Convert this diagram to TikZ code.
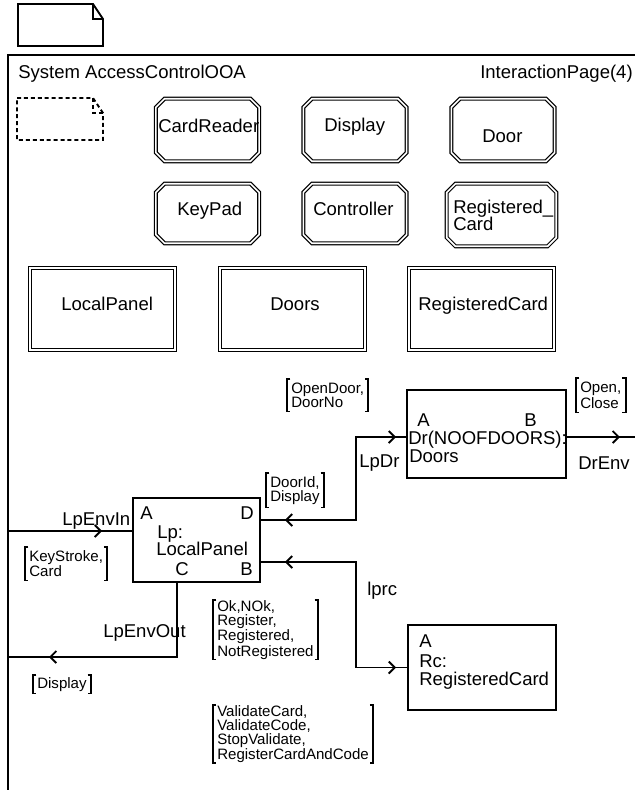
\documentclass[tikz,border=0pt]{standalone}
\usepackage{fontspec}
\setmainfont{Liberation Sans}
\usetikzlibrary{arrows.meta,calc,decorations.markings}

\tikzset{
  lbl/.style={anchor=base west,inner sep=0pt,font=\fontsize{13.9}{16}\selectfont},
  sig/.style={anchor=north west,align=left,inner xsep=3pt,inner ysep=0pt,minimum height=#1,font=\fontsize{11.3}{10}\selectfont},
  brk/.style={line width=1.4pt},
  wire/.style={line width=1.4pt},
  dbl/.style={double,double distance=1.2pt,line width=0.9pt},
  oct/.style={rectangle,inner sep=0pt},
  dbox/.style={rectangle,draw,dbl,inner sep=0pt,minimum width=108.75pt,minimum height=61.5pt},
  blk/.style={rectangle,draw,line width=1.4pt,inner sep=0pt},
  mk/.style={postaction={decorate},decoration={markings,#1}},
}
\newcommand\sigbr[1]{%
  \draw[brk] ([xshift=2.5pt]#1.north west) -| (#1.south west) -- ++(2.5pt,0);
  \draw[brk] ([xshift=-2.5pt]#1.north east) -| (#1.south east) -- ++(-2.5pt,0);
}
\newcommand\octline[1]{%
  \draw[dbl] ([xshift=6.5pt]#1.north west) -- ([xshift=-6.5pt]#1.north east)
    -- ([yshift=-6.5pt]#1.north east) -- ([yshift=6.5pt]#1.south east)
    -- ([xshift=-6.5pt]#1.south east) -- ([xshift=6.5pt]#1.south west)
    -- ([yshift=6.5pt]#1.south west) -- ([yshift=-6.5pt]#1.north west) -- cycle;
}

\begin{document}
\begin{tikzpicture}[x=0.75pt,y=-0.75pt,>={Straight Barb[length=4.5pt,width=9pt]}]
  \useasboundingbox (0,0) rectangle (635,790);
  % page symbols
  \draw[wire] (18,4) -- (93,4) -- (103,19) -- (103,46) -- (18,46) -- cycle;
  \draw[wire] (93,4) -- (93,19) -- (103,19);
  \draw[wire,dash pattern=on 3pt off 2.2pt] (17,98) -- (93,98) -- (103,113) -- (103,140) -- (17,140) -- cycle;
  \draw[wire,dash pattern=on 3pt off 2.2pt] (93,98) -- (93,113) -- (103,113);
  % frame
  \draw[wire] (8,790) -- (8,55) -- (635,55);
  \node[lbl] (sysname) at (18,78) {System AccessControlOOA};
  \node[lbl,anchor=base east] (pagename) at (633,78) {InteractionPage(4)};

  % process types
  \node[oct,minimum width=77pt,minimum height=46.5pt] (cardreader) at (207.5,130) {};
  \node[oct,minimum width=77pt,minimum height=46.5pt] (display) at (355,130) {};
  \node[oct,minimum width=77pt,minimum height=46.5pt] (door) at (503,130) {};
  \node[oct,minimum width=77pt,minimum height=44.25pt] (keypad) at (207.5,213.5) {};
  \node[oct,minimum width=77pt,minimum height=44.25pt] (controller) at (355,213.5) {};
  \node[oct,minimum width=81.75pt,minimum height=46.5pt] (regcardtype) at (501.5,215) {};
  \octline{cardreader} \octline{display} \octline{door}
  \octline{keypad} \octline{controller} \octline{regcardtype}
  \node[lbl] (cardreadername) at (158,132) {CardReader};
  \node[lbl] (displayname) at (324,131) {Display};
  \node[lbl] (doorname) at (482,142) {Door};
  \node[lbl] (keypadname) at (177,215) {KeyPad};
  \node[lbl] (controllername) at (313,215) {Controller};
  \node[lbl] (regcardname) at (453,213) {Registered\_};
  \node[lbl] (regcardname2) at (453,230) {Card};

  % block types
  \node[dbox] (localpanel) at (102.5,309) {};
  \node[dbox] (doors) at (292.5,309) {};
  \node[dbox] (registeredcard) at (481.5,309) {};
  \node[lbl] (localpanelname) at (61,310) {LocalPanel};
  \node[lbl] (doorsname) at (270,310) {Doors};
  \node[lbl] (registeredcardname) at (418,310) {RegisteredCard};

  % block instances
  \node[blk,minimum width=95.25pt,minimum height=63pt] (lp) at (196.5,540) {};
  \node[blk,minimum width=119.25pt,minimum height=66pt] (dr) at (486.5,434) {};
  \node[blk,minimum width=111pt,minimum height=63.75pt] (rc) at (482,667.5) {};
  \node[lbl] (lpA) at (140,519) {A};
  \node[lbl] (lpDname) at (240,519) {D};
  \node[lbl] (lpname) at (157,538) {Lp:};
  \node[lbl] (lptype) at (156,555) {LocalPanel};
  \node[lbl] (lpCname) at (175,575) {C};
  \node[lbl] (lpBname) at (240,575) {B};
  \node[lbl] (drAname) at (417,426) {A};
  \node[lbl] (drBname) at (524,426) {B};
  \node[lbl] (drname) at (408,444) {Dr(NOOFDOORS):};
  \node[lbl] (drtype) at (409,462) {Doors};
  \node[lbl] (rcAname) at (419,647) {A};
  \node[lbl] (rcname) at (419,667) {Rc:};
  \node[lbl] (rctype) at (419,685) {RegisteredCard};

  % ports and frame ends
  \coordinate (pA) at ($(lp.west)+(0,-9)$);
  \coordinate (pD) at ($(lp.east)+(0,-20)$);
  \coordinate (pB) at ($(lp.east)+(0,22)$);
  \coordinate (pC) at ($(lp.south)+(-19.5,0)$);
  \coordinate (drA) at ($(dr.west)+(0,3)$);
  \coordinate (drB) at ($(dr.east)+(0,3)$);
  \coordinate (envin) at (8,531);
  \coordinate (envout) at (8,657);
  \coordinate (envdr) at (635,437);
  \coordinate (bus) at (356,480);
  \coordinate (bus2) at (356,600);

  % channels
  \draw[wire,mk={mark=at position -22.5pt with {\arrow{>}}}] (envin) -- (pA);
  \draw[wire,mk={mark=at position -30.75pt with {\arrow{>}}}] (pC) |- (envout);
  \draw[wire,mk={mark=at position 18pt with {\arrowreversed{>}},mark=at position -7.5pt with {\arrow{>}}}] (pD) -| (bus) |- (drA);
  \draw[wire,mk={mark=at position 18pt with {\arrowreversed{>}},mark=at position -8.25pt with {\arrow{>}}}] (pB) -| (bus2) |- (rc.west);
  \draw[wire,mk={mark=at position -11.25pt with {\arrow{>}}}] (drB) -- (envdr);
  \node[lbl] (envinname) at (62,525) {LpEnvIn};
  \node[lbl] (envoutname) at (103,637) {LpEnvOut};
  \node[lbl] (lpdrname) at (359,467) {LpDr};
  \node[lbl] (drenvname) at (578,469) {DrEnv};
  \node[lbl] (lprcname) at (367,595) {lprc};

  % signal lists
  \node[sig=24.75pt] (sigin) at (25,547) {KeyStroke,\\Card}; \sigbr{sigin}
  \node[sig=13.5pt] (sigout) at (33,675) {Display}; \sigbr{sigout}
  \node[sig=24pt] (sigtodr) at (287,379) {OpenDoor,\\DoorNo}; \sigbr{sigtodr}
  \node[sig=25.5pt] (sigdrenv) at (576,378) {Open,\\Close}; \sigbr{sigdrenv}
  \node[sig=25.5pt,font=\fontsize{11.3}{6.5}\selectfont] (sigfromdr) at (266,473) {DoorId,\\Display}; \sigbr{sigfromdr}
  \node[sig=42.75pt,font=\fontsize{11.3}{9}\selectfont] (sigfromrc) at (213,600) {Ok,NOk,\\Register,\\Registered,\\NotRegistered}; \sigbr{sigfromrc}
  \node[sig=42.75pt,font=\fontsize{11.3}{9}\selectfont] (sigtorc) at (213,705) {ValidateCard,\\ValidateCode,\\StopValidate,\\RegisterCardAndCode}; \sigbr{sigtorc}
\end{tikzpicture}
\end{document}
